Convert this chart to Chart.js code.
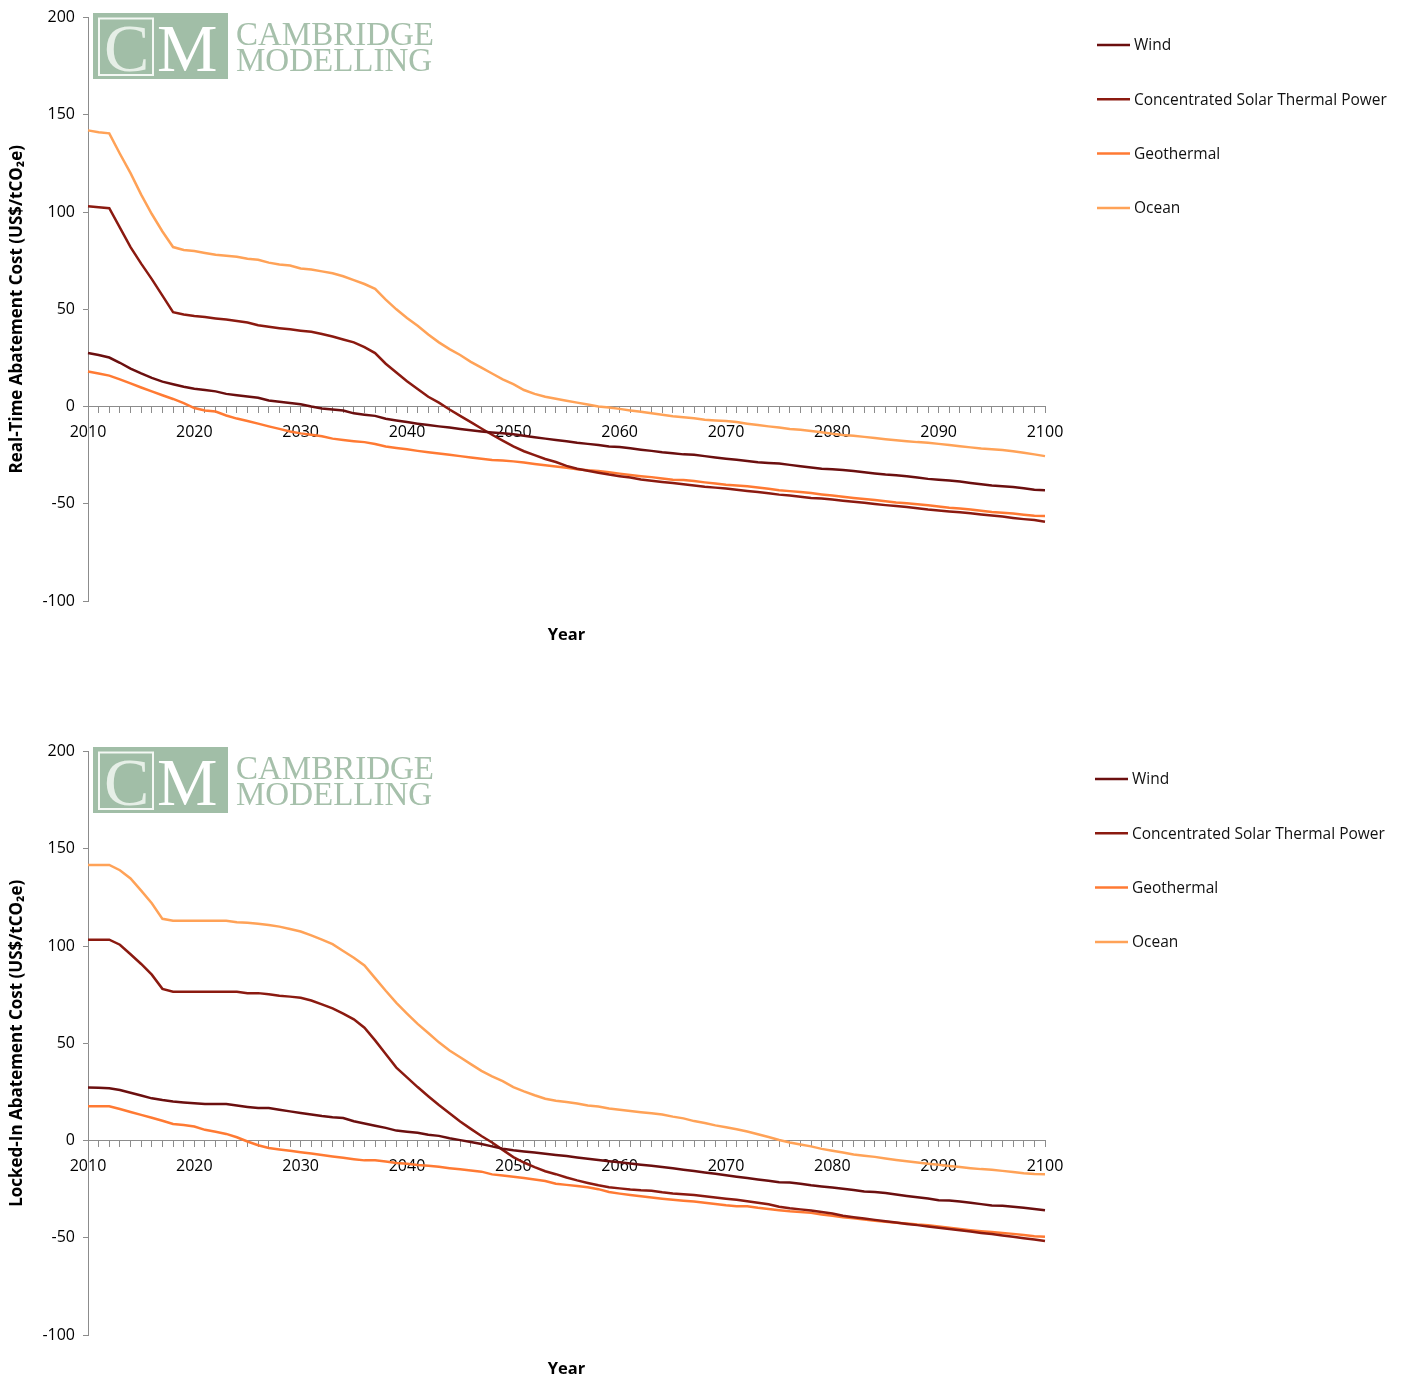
<!DOCTYPE html>
<html>
<head>
<meta charset="utf-8">
<script src="https://cdn.jsdelivr.net/npm/chart.js@4.4.1/dist/chart.umd.min.js"></script>
<style>
  html, body { margin: 0; padding: 0; background: #fff; }
  canvas { position: absolute; left: 0; }
  #realTime { top: 0; }
  #lockedIn { top: 734px; }
</style>
</head>
<body>
<canvas id="realTime" width="1402" height="734"></canvas>
<canvas id="lockedIn" width="1402" height="646"></canvas>
<script>
const years = Array.from({ length: 91 }, (_, i) => 2010 + i);
const seriesNames = ['Wind', 'Concentrated Solar Thermal Power', 'Geothermal', 'Ocean'];
const seriesColors = ['#6b0f0f', '#8b1a10', '#ff7a33', '#ffa257'];
const yTicks = [-100, -50, 0, 50, 100, 150, 200];

// Real-time abatement cost, 2010..2100
const windRT = [27.5, 26.5, 25.2, 22.5, 19.5, 17, 14.7, 12.8, 11.5, 10.2,
  9.2, 8.5, 7.8, 6.5, 5.8, 5.2, 4.5, 3.1, 2.5, 1.8,
  1.2, 0, -1, -1.5, -2, -3.5, -4.2, -4.8, -6.3, -7.2,
  -8, -8.8, -9.5, -10.2, -10.8, -11.5, -12.2, -12.8, -13.3, -13.8,
  -14.3, -15, -15.8, -16.5, -17.2, -17.8, -18.6, -19.2, -19.8, -20.5,
  -20.8, -21.5, -22.2, -22.8, -23.5, -24, -24.6, -24.8, -25.5, -26.2,
  -26.8, -27.4, -28, -28.6, -29, -29.3, -30, -30.7, -31.4, -32,
  -32.3, -32.6, -33.2, -33.8, -34.4, -35, -35.3, -35.8, -36.5, -37.2,
  -37.6, -38, -38.6, -39.3, -40, -40.6, -41, -41.4, -42, -42.8, -43];
const cspRT = [103, 102.5, 102, 92, 82, 73.5, 65.5, 57, 48.5, 47.3,
  46.5, 46, 45.3, 44.7, 44, 43.2, 41.8, 41, 40.3, 39.7,
  39, 38.4, 37.3, 36, 34.5, 33, 30.5, 27.5, 22, 17.5,
  13, 9, 5, 2, -1.5, -4.8, -8, -11.3, -14.5, -17.5,
  -20.5, -23, -25, -27, -28.5, -30.5, -32, -33, -34, -35,
  -35.8, -36.5, -37.5, -38.2, -38.8, -39.3, -40, -40.6, -41.3, -41.7,
  -42.2, -42.8, -43.4, -44, -44.6, -45.3, -45.8, -46.4, -47, -47.3,
  -47.8, -48.4, -49, -49.5, -50.1, -50.7, -51.2, -51.7, -52.3, -53,
  -53.5, -54, -54.4, -54.9, -55.5, -56, -56.6, -57.3, -57.9, -58.4, -59.2];
const geoRT = [18, 17, 15.9, 14, 11.9, 9.8, 7.8, 5.8, 3.9, 1.8,
  -0.8, -2, -2.6, -4.6, -6.2, -7.4, -8.8, -10.2, -11.5, -12.8,
  -13.8, -14.5, -15.3, -16.5, -17.2, -17.8, -18.3, -19.3, -20.5, -21.3,
  -22, -22.8, -23.5, -24.2, -24.8, -25.5, -26.2, -26.8, -27.5, -27.8,
  -28.2, -28.8, -29.5, -30.2, -30.8, -31.5, -32.2, -32.8, -33.2, -33.8,
  -34.5, -35.2, -35.8, -36.3, -37, -37.6, -37.8, -38.3, -39, -39.6,
  -40.2, -40.6, -41, -41.6, -42.3, -43, -43.5, -44, -44.5, -45.2,
  -45.8, -46.4, -47, -47.5, -48.1, -48.7, -49.3, -49.7, -50.3, -50.8,
  -51.4, -52, -52.4, -53, -53.6, -54.2, -54.6, -55, -55.6, -56.2, -56.3];
const oceanRT = [142, 141, 140.5, 130, 120, 109, 99, 90, 82, 80.5,
  80, 79, 78, 77.5, 77, 76, 75.5, 74, 73, 72.5,
  71, 70.5, 69.5, 68.5, 67, 65, 63, 60.5, 55, 50,
  45.5, 41.5, 37, 33, 29.5, 26.5, 23, 20, 17, 14,
  11.5, 8.5, 6.5, 5, 4, 3, 2, 1, 0, -0.5,
  -1.2, -2, -2.7, -3.5, -4.2, -5, -5.5, -6, -6.8, -7.2,
  -7.5, -8, -8.8, -9.5, -10.2, -10.8, -11.5, -12, -12.6, -13.2,
  -14, -14.6, -15, -15.6, -16.2, -16.8, -17.3, -17.8, -18.3, -18.6,
  -19.2, -19.8, -20.4, -21, -21.6, -22, -22.4, -23, -23.8, -24.6, -25.5];

// Locked-in abatement cost, 2010..2100
const windLI = [27.3, 27.2, 26.9, 26, 24.6, 23.2, 21.7, 20.8, 20.1, 19.6,
  19.2, 18.8, 18.8, 18.8, 18, 17.3, 16.7, 16.7, 15.8, 15,
  14.2, 13.4, 12.6, 12, 11.6, 9.9, 8.8, 7.6, 6.5, 5.1,
  4.5, 4, 3, 2.4, 1.2, 0.2, -0.8, -1.8, -3, -4.2,
  -5, -5.6, -6.2, -6.8, -7.4, -8, -8.7, -9.4, -10, -10.6,
  -11.2, -11.8, -12.4, -13, -13.6, -14.3, -15, -15.7, -16.4, -17.1,
  -17.9, -18.6, -19.3, -20, -20.7, -21.4, -21.6, -22.2, -23, -23.6,
  -24.2, -24.8, -25.4, -26.2, -26.5, -27, -27.8, -28.5, -29.2, -29.8,
  -30.7, -30.8, -31.4, -32, -32.7, -33.4, -33.5, -34, -34.6, -35.2, -35.8];
const cspLI = [103.3, 103.3, 103.3, 100.7, 95.8, 90.8, 85.3, 78, 76.5, 76.5,
  76.5, 76.5, 76.5, 76.5, 76.5, 75.8, 75.8, 75.2, 74.5, 74,
  73.4, 72, 70, 68, 65.3, 62.3, 58, 51.5, 44.5, 37.5,
  32.5, 27.5, 22.8, 18.3, 14, 9.8, 6, 2.3, -1, -4.8,
  -8.5, -11.3, -13.7, -15.8, -17.3, -19, -20.5, -21.8, -23, -24,
  -24.6, -25.2, -25.6, -25.8, -26.6, -27.2, -27.6, -28, -28.6, -29.3,
  -29.9, -30.5, -31.2, -32, -32.8, -34, -34.8, -35.4, -36, -36.7,
  -37.5, -38.7, -39.4, -40.1, -40.8, -41.5, -42.2, -42.9, -43.5, -44.2,
  -44.9, -45.5, -46.1, -46.8, -47.5, -48.1, -48.8, -49.5, -50.2, -50.9, -51.7];
const geoLI = [17.6, 17.6, 17.6, 16.2, 14.7, 13.2, 11.7, 10.2, 8.5, 8,
  7.2, 5.5, 4.5, 3.4, 1.7, -0.5, -2.4, -3.8, -4.6, -5.3,
  -6, -6.7, -7.4, -8.2, -8.9, -9.6, -10.2, -10.2, -10.8, -11.5,
  -12, -12.6, -13, -13.5, -14.2, -14.8, -15.4, -16, -17.4, -18,
  -18.6, -19.3, -20, -20.8, -22.2, -22.8, -23.4, -24, -25, -26.5,
  -27.3, -28, -28.6, -29.3, -29.9, -30.5, -31, -31.4, -32, -32.6,
  -33.3, -33.8, -33.8, -34.6, -35.2, -35.8, -36.4, -36.8, -37.2, -38,
  -38.7, -39.4, -40, -40.6, -41.2, -41.8, -42.3, -42.7, -43.2, -43.5,
  -44.2, -44.8, -45.5, -46.1, -46.6, -47, -47.5, -48, -48.6, -49.2, -49.5];
const oceanLI = [141.7, 141.7, 141.7, 139, 134.8, 128.5, 122, 114, 113, 113,
  113, 113, 113, 113, 112.3, 112, 111.5, 110.8, 110, 108.8,
  107.5, 105.5, 103.3, 101, 97.5, 94, 90, 83.5, 77, 70.8,
  65.3, 60, 55.3, 50.5, 46.3, 42.8, 39.3, 35.8, 33, 30.5,
  27.5, 25.3, 23.3, 21.5, 20.5, 19.8, 19, 18, 17.5, 16.5,
  15.8, 15.2, 14.6, 14, 13.4, 12.3, 11.4, 10, 9, 7.8,
  6.8, 5.8, 4.6, 3.2, 1.8, 0.3, -1, -2, -3, -4.3,
  -5.2, -6.2, -7.2, -7.8, -8.4, -9.2, -10, -10.7, -11.3, -11.9,
  -12.5, -13.1, -13.6, -14.2, -14.7, -15, -15.6, -16.2, -16.8, -17.2, -17.4];

const axisGrey = '#8c8c8c';
const fontFamily = '"Open Sans", "Noto Sans", sans-serif';

// logo, legend and "Year" label drawn on top of the chart
const decorations = {
  id: 'decorations',
  afterDraw(chart, args, opts) {
    const ctx = chart.ctx;
    const area = chart.chartArea;
    ctx.save();

    // Cambridge Modelling logo
    ctx.fillStyle = '#a1bea7';
    ctx.fillRect(93, 13, 135, 66);
    ctx.strokeStyle = '#f4f8f4';
    ctx.lineWidth = 2;
    ctx.strokeRect(99, 18.5, 54, 56.5);
    ctx.textBaseline = 'alphabetic';
    ctx.textAlign = 'left';
    ctx.font = '68px "Liberation Serif", serif';
    ctx.fillStyle = '#e6efe7';
    ctx.fillText('C', 104, 71);
    ctx.fillStyle = '#ffffff';
    ctx.fillText('M', 157, 71);
    ctx.font = '33px "Liberation Serif", serif';
    ctx.fillStyle = '#a6c0ab';
    ctx.fillText('CAMBRIDGE', 236, 45);
    ctx.fillText('MODELLING', 236, 71);

    // legend
    ctx.font = '15.5px ' + fontFamily;
    ctx.textBaseline = 'middle';
    chart.data.datasets.forEach((ds, i) => {
      const y = opts.legendTop + i * 54.3;
      ctx.strokeStyle = ds.borderColor;
      ctx.lineWidth = 2.5;
      ctx.beginPath();
      ctx.moveTo(opts.legendX, y);
      ctx.lineTo(opts.legendX + 33, y);
      ctx.stroke();
      ctx.fillStyle = '#111';
      ctx.fillText(ds.label, opts.legendX + 37, y + 1);
    });

    // x axis title
    ctx.font = 'bold 16.5px ' + fontFamily;
    ctx.textAlign = 'center';
    ctx.fillStyle = '#000';
    ctx.fillText('Year', (area.left + area.right) / 2, opts.yearY);
    ctx.restore();
  }
};

function makeChart(id, yTitle, values, legendX, bottomPad) {
  new Chart(document.getElementById(id), {
    type: 'line',
    data: {
      labels: years,
      datasets: values.map((v, i) => ({
        label: seriesNames[i],
        data: v,
        borderColor: seriesColors[i],
        backgroundColor: seriesColors[i],
        borderWidth: 2.5,
        pointRadius: 0,
        tension: 0
      }))
    },
    options: {
      responsive: false,
      animation: false,
      layout: { padding: { left: 0, top: 15, right: 357, bottom: bottomPad } },
      plugins: {
        legend: { display: false },
        tooltip: { enabled: false },
        decorations: { legendX: legendX, legendTop: 45, yearY: 635 }
      },
      scales: {
        x: {
          position: { y: 0 },
          afterFit: s => { s.height = 0; },
          grid: { drawOnChartArea: false, drawTicks: true, tickLength: 6, color: axisGrey },
          border: { color: axisGrey, width: 1 },
          ticks: {
            autoSkip: false,
            maxRotation: 0,
            minRotation: 0,
            padding: 10,
            color: '#000',
            font: { family: fontFamily, size: 16 },
            callback: function (v, i) { return years[i] % 10 === 0 ? String(years[i]) : ''; }
          }
        },
        y: {
          min: -100,
          max: 200,
          afterFit: s => { s.width = 88; },
          afterBuildTicks: s => { s.ticks = yTicks.map(v => ({ value: v })); },
          grid: { drawOnChartArea: false, drawTicks: true, tickLength: 5, color: axisGrey },
          border: { color: axisGrey, width: 1 },
          ticks: {
            padding: 8,
            color: '#000',
            font: { family: fontFamily, size: 16 }
          },
          title: {
            display: true,
            text: yTitle,
            color: '#000',
            padding: { top: 7, bottom: 0 },
            font: { family: fontFamily, size: 17, weight: 'bold' }
          }
        }
      }
    },
    plugins: [decorations]
  });
}

makeChart('realTime', 'Real-Time Abatement Cost (US$/tCO\u2082e)', [windRT, cspRT, geoRT, oceanRT], 1097, 133);
makeChart('lockedIn', 'Locked-In Abatement Cost (US$/tCO\u2082e)', [windLI, cspLI, geoLI, oceanLI], 1095, 45);
</script>
</body>
</html>
